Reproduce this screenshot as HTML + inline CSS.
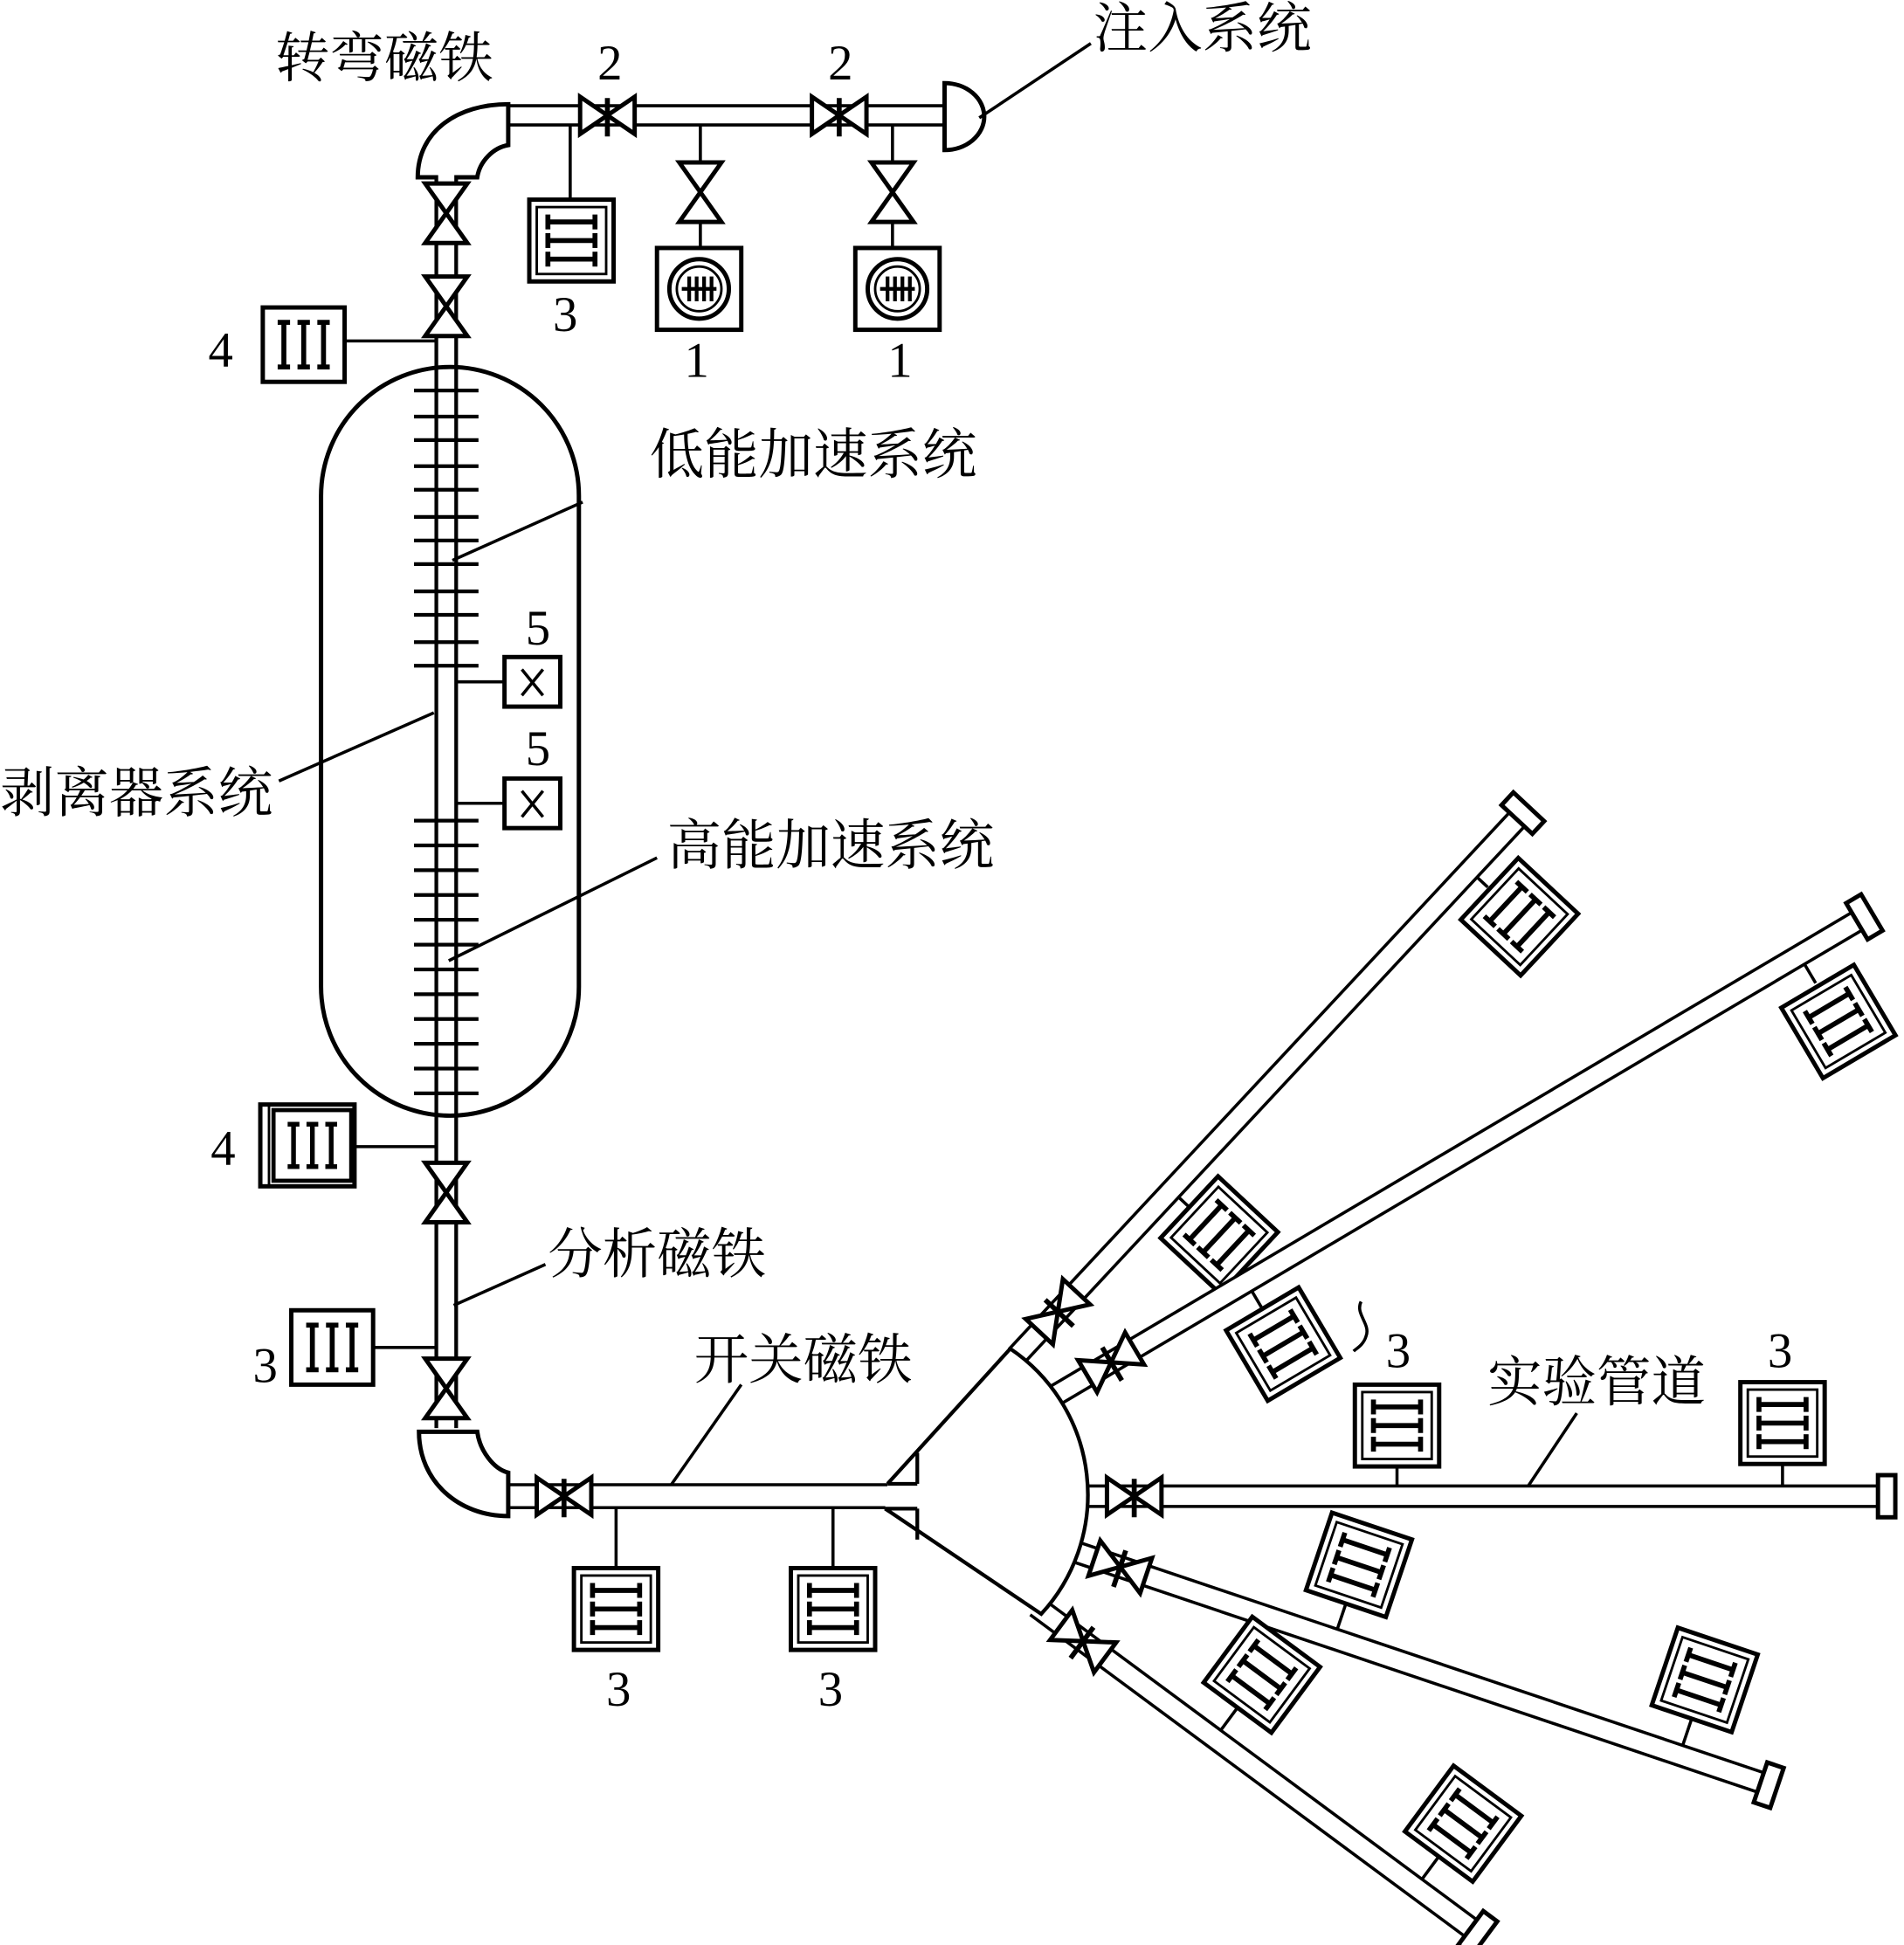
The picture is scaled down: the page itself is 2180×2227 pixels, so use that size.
<!DOCTYPE html>
<html><head><meta charset="utf-8"><style>
html,body{margin:0;padding:0;background:#fff;}
svg{display:block}
text{font-family:"Liberation Serif","Noto Serif CJK SC",serif;fill:#000}
</style></head><body>
<svg width="2180" height="2227" viewBox="0 0 1536 1569" xmlns="http://www.w3.org/2000/svg">
<defs>
<g id="v"><polygon points="-22,-15 -22,15 0,0" fill="#fff" stroke="#000" stroke-width="3.5"/><polygon points="22,-15 22,15 0,0" fill="#fff" stroke="#000" stroke-width="3.5"/><line x1="0" y1="-14" x2="0" y2="17" stroke="#000" stroke-width="4"/></g>
<g id="vv"><polygon points="-17,-24 17,-24 0,0" fill="#fff" stroke="#000" stroke-width="3.5"/><polygon points="-17,24 17,24 0,0" fill="#fff" stroke="#000" stroke-width="3.5"/></g>
<g id="d3" stroke="#000"><rect x="-34" y="-33" width="68" height="66" fill="#fff" stroke-width="3.5"/><rect x="-28" y="-27" width="56" height="54" fill="none" stroke-width="2"/>
<g stroke-width="4"><line x1="-19" y1="-15" x2="19" y2="-15"/><line x1="-19" y1="0" x2="19" y2="0"/><line x1="-19" y1="15" x2="19" y2="15"/>
<line x1="-19" y1="-21" x2="-19" y2="-9"/><line x1="19" y1="-21" x2="19" y2="-9"/><line x1="-19" y1="-6" x2="-19" y2="6"/><line x1="19" y1="-6" x2="19" y2="6"/><line x1="-19" y1="9" x2="-19" y2="21"/><line x1="19" y1="9" x2="19" y2="21"/></g></g>
<g id="d4" stroke="#000"><rect x="-33" y="-30" width="66" height="60" fill="#fff" stroke-width="3.5"/>
<g stroke-width="4"><line x1="-16" y1="-18" x2="-16" y2="18"/><line x1="0" y1="-18" x2="0" y2="18"/><line x1="16" y1="-18" x2="16" y2="18"/>
<line x1="-21" y1="-18" x2="-11" y2="-18"/><line x1="-21" y1="18" x2="-11" y2="18"/><line x1="-5" y1="-18" x2="5" y2="-18"/><line x1="-5" y1="18" x2="5" y2="18"/><line x1="11" y1="-18" x2="21" y2="-18"/><line x1="11" y1="18" x2="21" y2="18"/></g></g>
<g id="d1" stroke="#000"><rect x="-34" y="-33" width="68" height="66" fill="#fff" stroke-width="3.5"/><circle r="24" fill="none" stroke-width="3.5"/><circle r="18" fill="none" stroke-width="2"/>
<g stroke-width="3"><line x1="-14" y1="0" x2="14" y2="0"/><line x1="-8" y1="-10" x2="-8" y2="10"/><line x1="-2" y1="-10" x2="-2" y2="10"/><line x1="4" y1="-10" x2="4" y2="10"/><line x1="10" y1="-10" x2="10" y2="10"/></g></g>
</defs>
<g fill="none" stroke="#000" stroke-width="3">
<line x1="408" y1="93" x2="765" y2="93" stroke-width="18"/><line x1="406" y1="93" x2="767" y2="93" stroke="#fff" stroke-width="13"/>
<path d="M762,67 A32,27 0 0 1 762,121 Z" fill="#fff" stroke-width="3.5"/>
<line x1="790" y1="95" x2="880" y2="35" stroke-width="2.5"/>
<path d="M337,143 C337,105 370,84 410,84 L410,117 C398,119 387,130 385,143 Z" fill="#fff" stroke-width="3.5"/>
<line x1="360" y1="143" x2="360" y2="1152" stroke-width="19"/><line x1="360" y1="141" x2="360" y2="1154" stroke="#fff" stroke-width="13"/>
<rect x="259" y="296" width="208" height="604" rx="104" stroke-width="3.5"/>
</g>
<g stroke="#000" stroke-width="3">
<line x1="334" y1="315" x2="386" y2="315"/><line x1="334" y1="336" x2="386" y2="336"/><line x1="334" y1="355" x2="386" y2="355"/><line x1="334" y1="376" x2="386" y2="376"/><line x1="334" y1="395" x2="386" y2="395"/><line x1="334" y1="417" x2="386" y2="417"/><line x1="334" y1="436" x2="386" y2="436"/><line x1="334" y1="455" x2="386" y2="455"/><line x1="334" y1="477" x2="386" y2="477"/><line x1="334" y1="496" x2="386" y2="496"/><line x1="334" y1="518" x2="386" y2="518"/><line x1="334" y1="537" x2="386" y2="537"/>
<line x1="334" y1="662" x2="386" y2="662"/><line x1="334" y1="682" x2="386" y2="682"/><line x1="334" y1="702" x2="386" y2="702"/><line x1="334" y1="722" x2="386" y2="722"/><line x1="334" y1="742" x2="386" y2="742"/><line x1="334" y1="762" x2="386" y2="762"/><line x1="334" y1="782" x2="386" y2="782"/><line x1="334" y1="802" x2="386" y2="802"/><line x1="334" y1="822" x2="386" y2="822"/><line x1="334" y1="842" x2="386" y2="842"/><line x1="334" y1="862" x2="386" y2="862"/><line x1="334" y1="882" x2="386" y2="882"/>
</g>
<g stroke="#000" stroke-width="2.5" fill="none">
<line x1="365" y1="452" x2="470" y2="405"/>
<line x1="225" y1="630" x2="350" y2="575"/>
<line x1="362" y1="775" x2="530" y2="692"/>
<line x1="366" y1="1053" x2="440" y2="1020"/>
<line x1="535" y1="1207" x2="598" y2="1117"/>
<line x1="1230" y1="1203" x2="1272" y2="1140"/>
<path d="M1098,1050 C1093,1060 1106,1068 1102,1078 C1100,1085 1094,1088 1092,1090"/>
<line x1="460" y1="100" x2="460" y2="162"/>
<line x1="565" y1="100" x2="565" y2="200"/>
<line x1="720" y1="100" x2="720" y2="200"/>
<line x1="276" y1="275" x2="352" y2="275"/>
<line x1="368" y1="550" x2="408" y2="550"/>
<line x1="368" y1="648" x2="408" y2="648"/>
<line x1="286" y1="925" x2="352" y2="925"/>
<line x1="300" y1="1087" x2="352" y2="1087"/>
<line x1="497" y1="1215" x2="497" y2="1266"/>
<line x1="672" y1="1215" x2="672" y2="1266"/>
</g>
<use href="#v" x="490" y="93"/><use href="#v" x="677" y="93"/>
<use href="#vv" x="565" y="155"/><use href="#vv" x="720" y="155"/>
<use href="#vv" x="360" y="172"/><use href="#vv" x="360" y="247"/>
<use href="#vv" x="360" y="962"/><use href="#vv" x="360" y="1120"/>
<use href="#d3" x="461" y="194"/>
<use href="#d1" x="564" y="233"/><use href="#d1" x="724" y="233"/>
<use href="#d4" x="245" y="278"/>
<g transform="translate(248,924)"><rect x="-38" y="-33" width="76" height="66" fill="#fff" stroke="#000" stroke-width="3.5"/><line x1="-31" y1="-33" x2="-31" y2="33" stroke="#000" stroke-width="2"/><use href="#d4" transform="translate(4,0) scale(0.95)"/></g>
<use href="#d4" x="268" y="1087"/>
<g stroke="#000" fill="#fff" stroke-width="3.5"><rect x="407" y="530" width="45" height="40"/><rect x="407" y="628" width="45" height="40"/></g>
<g stroke="#000" stroke-width="2.5"><line x1="421" y1="540" x2="438" y2="561"/><line x1="438" y1="540" x2="421" y2="561"/><line x1="421" y1="638" x2="438" y2="659"/><line x1="438" y1="638" x2="421" y2="659"/></g>
<g fill="none" stroke="#000">
<line x1="408" y1="1207" x2="740" y2="1207" stroke-width="21"/><line x1="406" y1="1207" x2="742" y2="1207" stroke="#fff" stroke-width="16"/>
<path d="M338,1155 L385,1155 C387,1170 398,1185 410,1188 L410,1223 C370,1223 338,1195 338,1155 Z" fill="#fff" stroke-width="3.5"/>
</g>
<use href="#v" x="455" y="1207"/>
<use href="#d3" x="497" y="1298"/><use href="#d3" x="672" y="1298"/>
<!-- branches -->
<g transform="translate(820,1094) rotate(-47)">
<line x1="0" y1="0" x2="596" y2="0" stroke="#000" stroke-width="19"/><line x1="-2" y1="0" x2="598" y2="0" stroke="#fff" stroke-width="14"/>
<line x1="183" y1="8" x2="183" y2="20" stroke="#000" stroke-width="2.5"/><line x1="536" y1="8" x2="536" y2="20" stroke="#000" stroke-width="2.5"/>
<use href="#v" x="49" y="0"/><rect x="592" y="-17" width="14" height="34" fill="#fff" stroke="#000" stroke-width="3.5"/>
<use href="#d3" x="183" y="53"/><use href="#d3" x="536" y="55"/></g>
<g transform="translate(849,1127) rotate(-30.6)">
<line x1="0" y1="0" x2="758" y2="0" stroke="#000" stroke-width="19"/><line x1="-2" y1="0" x2="760" y2="0" stroke="#fff" stroke-width="14"/>
<line x1="182" y1="8" x2="182" y2="24" stroke="#000" stroke-width="2.5"/><line x1="700" y1="8" x2="700" y2="26" stroke="#000" stroke-width="2.5"/>
<use href="#v" x="55" y="0"/><rect x="754" y="-17" width="14" height="34" fill="#fff" stroke="#000" stroke-width="3.5"/>
<use href="#d3" x="182" y="58"/><use href="#d3" x="700" y="62"/></g>
<g transform="translate(868,1207)">
<line x1="0" y1="0" x2="649" y2="0" stroke="#000" stroke-width="19"/><line x1="-2" y1="0" x2="651" y2="0" stroke="#fff" stroke-width="14"/>
<line x1="259" y1="-8" x2="259" y2="-24" stroke="#000" stroke-width="2.5"/><line x1="570" y1="-8" x2="570" y2="-26" stroke="#000" stroke-width="2.5"/>
<use href="#v" x="47" y="0"/><rect x="647" y="-17" width="14" height="34" fill="#fff" stroke="#000" stroke-width="3.5"/>
<use href="#d3" x="259" y="-57"/><use href="#d3" x="570" y="-59"/></g>
<g transform="translate(862,1250) rotate(18.6)">
<line x1="0" y1="0" x2="593" y2="0" stroke="#000" stroke-width="19"/><line x1="-2" y1="0" x2="595" y2="0" stroke="#fff" stroke-width="14"/>
<line x1="226" y1="-8" x2="226" y2="-30" stroke="#000" stroke-width="2.5"/><line x1="520" y1="-8" x2="520" y2="-30" stroke="#000" stroke-width="2.5"/>
<use href="#v" x="44" y="0"/><rect x="589" y="-17" width="14" height="34" fill="#fff" stroke="#000" stroke-width="3.5"/>
<use href="#d3" x="226" y="-63"/><use href="#d3" x="520" y="-64"/></g>
<g transform="translate(836,1296) rotate(36.5)">
<line x1="0" y1="0" x2="440" y2="0" stroke="#000" stroke-width="19"/><line x1="-2" y1="0" x2="442" y2="0" stroke="#fff" stroke-width="14"/>
<line x1="179" y1="-8" x2="179" y2="-32" stroke="#000" stroke-width="2.5"/><line x1="381" y1="-8" x2="381" y2="-32" stroke="#000" stroke-width="2.5"/>
<use href="#v" x="47" y="0"/><rect x="436" y="-17" width="14" height="34" fill="#fff" stroke="#000" stroke-width="3.5"/>
<use href="#d3" x="179" y="-64"/><use href="#d3" x="381" y="-64"/></g>
<!-- switch magnet (drawn over branch starts) -->
<g fill="none" stroke="#000" stroke-width="3">
<path d="M716,1197 L815,1088 A142,142 0 0 1 840,1302 L714,1217" fill="#fff"/>
<line x1="740" y1="1172" x2="740" y2="1197"/><line x1="740" y1="1217" x2="740" y2="1242"/>
<line x1="716" y1="1197" x2="740" y2="1197"/><line x1="714" y1="1217" x2="740" y2="1217"/>
</g>
<g font-size="44">
<text x="222" y="62">转弯磁铁</text>
<text x="882" y="38">注入系统</text>
<text x="524" y="382">低能加速系统</text>
<text x="0" y="655">剥离器系统</text>
<text x="538" y="697">高能加速系统</text>
<text x="442" y="1027">分析磁铁</text>
<text x="560" y="1112">开关磁铁</text>
<text x="1200" y="1130">实验管道</text>
</g>
<g font-size="40">
<text x="482" y="64">2</text><text x="668" y="64">2</text>
<text x="446" y="267">3</text><text x="552" y="304">1</text><text x="716" y="304">1</text>
<text x="168" y="296">4</text><text x="424" y="520">5</text><text x="424" y="617">5</text>
<text x="170" y="940">4</text><text x="204" y="1115">3</text>
<text x="489" y="1376">3</text><text x="660" y="1376">3</text>
<text x="1118" y="1103">3</text><text x="1426" y="1103">3</text>
</g>
</svg>
</body></html>
